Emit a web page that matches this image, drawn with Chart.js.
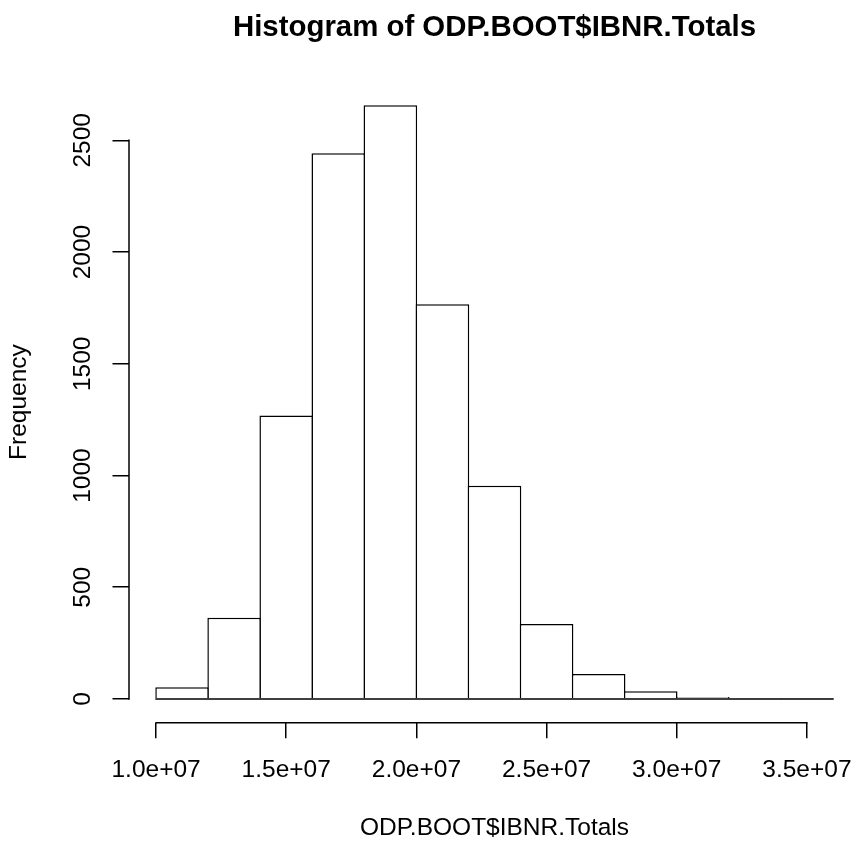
<!DOCTYPE html>
<html>
<head>
<meta charset="utf-8">
<script src="https://cdn.jsdelivr.net/npm/chart.js@4.4.1/dist/chart.umd.min.js"></script>
<style>
html,body{margin:0;padding:0;background:#fff;overflow:hidden;}
canvas{display:block;}
</style>
</head>
<body>
<canvas id="c" width="860" height="847"></canvas>
<script>
// ---- data ----
const breaks = [10000000, 12000000, 14000000, 16000000, 18000000, 20000000, 22000000,
                24000000, 26000000, 28000000, 30000000, 32000000, 34000000, 36000000];
const counts = [52, 363, 1268, 2442, 2657, 1766, 954, 335, 112, 34, 9, 2, 1];
const xTickValues = [10000000, 15000000, 20000000, 25000000, 30000000, 35000000];
const xTickLabels = ['1.0e+07', '1.5e+07', '2.0e+07', '2.5e+07', '3.0e+07', '3.5e+07'];
const yTickValues = [0, 500, 1000, 1500, 2000, 2500];
const yTickLabels = ['0', '500', '1000', '1500', '2000', '2500'];
const mainTitle = 'Histogram of ODP.BOOT$IBNR.Totals';
const xTitle = 'ODP.BOOT$IBNR.Totals';
const yTitle = 'Frequency';

// bar midpoints from the break edges
const mids = counts.map((c, i) => (breaks[i] + breaks[i + 1]) / 2);
const barData = counts.map((c, i) => ({ x: mids[i], y: c }));

// R style 4% axis extension
const xSpan = breaks[breaks.length - 1] - breaks[0];
const yMaxVal = Math.max(...counts);

const FONT = '"Liberation Sans", Arial, Helvetica, sans-serif';

const rAxes = {
  id: 'rAxes',
  afterDatasetsDraw(chart) {
    const { ctx, chartArea, scales: { x, y } } = chart;
    ctx.save();
    ctx.strokeStyle = '#000';
    ctx.lineWidth = 1.5;
    ctx.lineCap = 'butt';
    // baseline under the bars (bottom edges of the bins)
    const y0 = y.getPixelForValue(0);
    ctx.beginPath();
    ctx.moveTo(x.getPixelForValue(breaks[0]) - 0.75, y0);
    ctx.lineTo(x.getPixelForValue(breaks[breaks.length - 1]) + 0.75, y0);
    ctx.stroke();
    // x axis line spanning first..last tick
    const xb = chartArea.bottom;
    ctx.beginPath();
    ctx.moveTo(x.getPixelForValue(xTickValues[0]) - 0.75, xb);
    ctx.lineTo(x.getPixelForValue(xTickValues[xTickValues.length - 1]) + 0.75, xb);
    ctx.stroke();
    // y axis line spanning first..last tick
    const yl = chartArea.left;
    ctx.beginPath();
    ctx.moveTo(yl, y.getPixelForValue(yTickValues[0]) + 0.75);
    ctx.lineTo(yl, y.getPixelForValue(yTickValues[yTickValues.length - 1]) - 0.75);
    ctx.stroke();
    // main title, centred over the plot region
    ctx.fillStyle = '#000';
    ctx.font = 'bold 29.4px ' + FONT;
    ctx.textAlign = 'center';
    ctx.textBaseline = 'alphabetic';
    ctx.fillText(mainTitle, (chartArea.left + chartArea.right) / 2, 36);
    ctx.restore();
  }
};

new Chart(document.getElementById('c'), {
  type: 'bar',
  data: {
    datasets: [{
      label: 'Frequency',
      data: barData,
      backgroundColor: '#ffffff',
      borderColor: '#000000',
      borderWidth: 1.5,
      borderSkipped: 'start',
      barPercentage: 1.03,
      categoryPercentage: 1,
      grouped: false
    }]
  },
  options: {
    responsive: false,
    animation: false,
    devicePixelRatio: 1,
    layout: { padding: { top: 81.5, left: 0, right: 0, bottom: 0 } },
    plugins: {
      legend: { display: false },
      tooltip: { enabled: false },
      title: { display: false }
    },
    scales: {
      x: {
        type: 'linear',
        offset: false,
        min: breaks[0] - 0.04 * xSpan,
        max: breaks[breaks.length - 1] + 0.04 * xSpan,
        afterBuildTicks: s => { s.ticks = xTickValues.map(v => ({ value: v })); },
        afterFit: s => { s.height = 124.3; s.paddingLeft = 0; s.paddingRight = 0; },
        border: { display: false },
        grid: { display: true, offset: false, drawOnChartArea: false, drawTicks: true, tickLength: 15.5, color: '#000', lineWidth: 1.5 },
        ticks: {
          autoSkip: false, maxRotation: 0, minRotation: 0, padding: 17.5,
          color: '#000', font: { family: FONT, size: 24.5 },
          callback: (v, i) => xTickLabels[i]
        },
        title: {
          display: true, text: xTitle, color: '#000',
          font: { family: FONT, size: 24.5 }, padding: { top: 0, bottom: 4.3 }
        }
      },
      y: {
        type: 'linear',
        offset: false,
        min: -0.04 * yMaxVal,
        max: 1.04 * yMaxVal,
        afterBuildTicks: s => { s.ticks = yTickValues.map(v => ({ value: v })); },
        afterFit: s => { s.width = 129; s.paddingTop = 0; s.paddingBottom = 0; },
        border: { display: false },
        grid: { display: true, offset: false, drawOnChartArea: false, drawTicks: true, tickLength: 16.5, color: '#000', lineWidth: 1.5 },
        ticks: {
          autoSkip: false, minRotation: 90, maxRotation: 90, crossAlign: 'center', padding: 1.75,
          color: '#000', font: { family: FONT, size: 24.5 },
          callback: (v, i) => yTickLabels[i]
        },
        title: {
          display: true, text: yTitle, color: '#000',
          font: { family: FONT, size: 24.5 }, padding: { top: 5, bottom: 0 }
        }
      }
    }
  },
  plugins: [rAxes]
});
</script>
</body>
</html>
